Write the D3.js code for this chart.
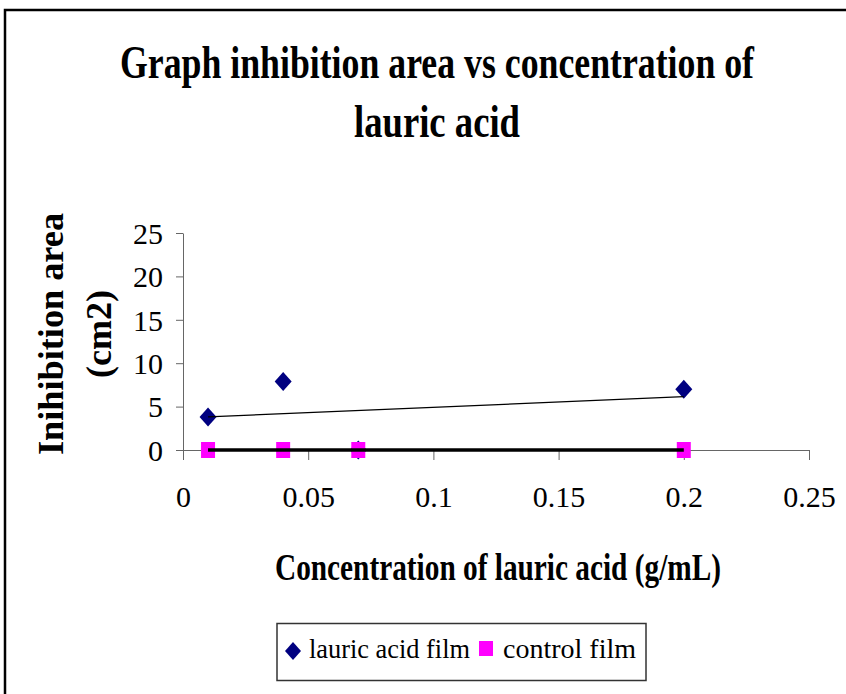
<!DOCTYPE html>
<html>
<head>
<meta charset="utf-8">
<script src="https://cdn.jsdelivr.net/npm/d3@7"></script>
<style>
  html, body { margin: 0; padding: 0; background: #fff; }
  svg { display: block; }
  text { font-family: "Liberation Serif", "Times New Roman", serif; fill: #000; }
</style>
</head>
<body>
<svg id="chart" width="846" height="694"></svg>
<script>
// Concentration (g/mL) and inhibition area (cm2) for each film
const lauricX = [0.01, 0.04, 0.07, 0.2];
const lauricY = [3.8, 7.9, 0, 7.0];
const controlX = [0.01, 0.04, 0.07, 0.2];
const controlY = [0, 0, 0, 0];

const xTicks = [0, 0.05, 0.1, 0.15, 0.2, 0.25];
const yTicks = [0, 5, 10, 15, 20, 25];
const xTickLabels = ["0", "0.05", "0.1", "0.15", "0.2", "0.25"];
const yTickLabels = ["0", "5", "10", "15", "20", "25"];

const titleLines = ["Graph inhibition area vs concentration of", "lauric acid"];
const xTitle = "Concentration of lauric acid (g/mL)";
const yTitleLines = ["Inihibition area", "(cm2)"];
const seriesNames = ["lauric acid film", "control film"];
const seriesColors = ["#000080", "#FF00FF"];

const svg = d3.select("#chart");

// outer chart frame
svg.append("rect")
  .attr("x", 5).attr("y", 10).attr("width", 900).attr("height", 800)
  .attr("fill", "none").attr("stroke", "#000").attr("stroke-width", 2.5);

const x = d3.scaleLinear().domain([0, 0.25]).range([183, 809]);
const y = d3.scaleLinear().domain([0, 25]).range([450, 233]);

// title (condensed bold serif)
const titleG = svg.append("g").attr("font-weight", "bold");
titleG.append("text")
  .attr("x", 437).attr("y", 78).attr("text-anchor", "middle")
  .attr("font-size", 46).attr("textLength", 634).attr("lengthAdjust", "spacingAndGlyphs")
  .text(titleLines[0]);
titleG.append("text")
  .attr("x", 437).attr("y", 137).attr("text-anchor", "middle")
  .attr("font-size", 46).attr("textLength", 166).attr("lengthAdjust", "spacingAndGlyphs")
  .text(titleLines[1]);

// axes
const axisColor = "#666";
const yAxis = d3.axisLeft(y).tickValues(yTicks).tickSize(7).tickSizeOuter(0)
  .tickFormat((d, i) => yTickLabels[i]);
const gy = svg.append("g").attr("transform", `translate(${x(0)},0)`).call(yAxis);
gy.select(".domain").attr("stroke", axisColor);
gy.selectAll(".tick line").attr("stroke", axisColor);
gy.selectAll(".tick text")
  .attr("font-family", "Liberation Serif, serif").attr("font-size", 30)
  .attr("fill", "#000").attr("x", -20).attr("dy", "0.34em");

const xAxis = d3.axisBottom(x).tickValues(xTicks).tickSize(10).tickSizeOuter(0)
  .tickFormat((d, i) => xTickLabels[i]);
const gx = svg.append("g").attr("transform", `translate(0,${y(0)})`).call(xAxis);
gx.select(".domain").attr("stroke", axisColor);
gx.selectAll(".tick line").attr("stroke", axisColor);
gx.selectAll(".tick text")
  .attr("font-family", "Liberation Serif, serif").attr("font-size", 30)
  .attr("fill", "#000").attr("y", 47).attr("dy", "0.34em");

// axis titles
svg.append("text")
  .attr("x", 498).attr("y", 580).attr("text-anchor", "middle")
  .attr("font-size", 37).attr("font-weight", "bold")
  .attr("textLength", 446).attr("lengthAdjust", "spacingAndGlyphs")
  .text(xTitle);

const yTitleG = svg.append("g")
  .attr("transform", "translate(0,334) rotate(-90)")
  .attr("font-weight", "bold").attr("font-size", 36);
yTitleG.append("text")
  .attr("x", 0).attr("y", 63).attr("text-anchor", "middle")
  .attr("textLength", 242).attr("lengthAdjust", "spacingAndGlyphs")
  .text(yTitleLines[0]);
yTitleG.append("text")
  .attr("x", 0).attr("y", 111).attr("text-anchor", "middle")
  .text(yTitleLines[1]);

// marker shapes
const diamond = (cx, cy, w, h) =>
  `M${cx},${cy - h}L${cx + w},${cy}L${cx},${cy + h}L${cx - w},${cy}Z`;
const square = (cx, cy, w, h) =>
  `M${cx - w},${cy - h}h${2 * w}v${2 * h}h${-2 * w}Z`;

const lauric = lauricX.map((v, i) => ({ x: v, y: lauricY[i] }));
const control = controlX.map((v, i) => ({ x: v, y: controlY[i] }));

svg.append("g").selectAll("path").data(lauric).join("path")
  .attr("d", d => diamond(x(d.x), y(d.y), 8.5, 9.5))
  .attr("fill", seriesColors[0]);

svg.append("g").selectAll("path").data(control).join("path")
  .attr("d", d => square(x(d.x), y(d.y), 7, 8))
  .attr("fill", seriesColors[1]);

// least-squares linear trendlines over each series' x range
function trend(pts) {
  const mx = d3.mean(pts, d => d.x), my = d3.mean(pts, d => d.y);
  const sxx = d3.sum(pts, d => (d.x - mx) ** 2);
  const sxy = d3.sum(pts, d => (d.x - mx) * (d.y - my));
  const b = sxx ? sxy / sxx : 0;
  const a = my - b * mx;
  const [x0, x1] = d3.extent(pts, d => d.x);
  return [{ x: x0, y: a + b * x0 }, { x: x1, y: a + b * x1 }];
}
const line = d3.line().x(d => x(d.x)).y(d => y(d.y));

svg.append("path").datum(trend(lauric)).attr("d", line)
  .attr("fill", "none").attr("stroke", "#000").attr("stroke-width", 1.2);
svg.append("path").datum(trend(control)).attr("d", line)
  .attr("fill", "none").attr("stroke", "#000").attr("stroke-width", 3.5);

// legend
const lg = svg.append("g");
lg.append("rect")
  .attr("x", 277).attr("y", 623.5).attr("width", 369).attr("height", 57)
  .attr("fill", "#fff").attr("stroke", "#333").attr("stroke-width", 1.5);
lg.append("path").attr("d", diamond(293, 651, 8, 9)).attr("fill", seriesColors[0]);
lg.append("text").attr("x", 309).attr("y", 658).attr("font-size", 27)
  .attr("textLength", 161).attr("lengthAdjust", "spacingAndGlyphs")
  .text(seriesNames[0]);
lg.append("path").attr("d", square(486, 648.5, 7, 7.5)).attr("fill", seriesColors[1]);
lg.append("text").attr("x", 503).attr("y", 658).attr("font-size", 27)
  .attr("textLength", 133).attr("lengthAdjust", "spacingAndGlyphs")
  .text(seriesNames[1]);
</script>
</body>
</html>
